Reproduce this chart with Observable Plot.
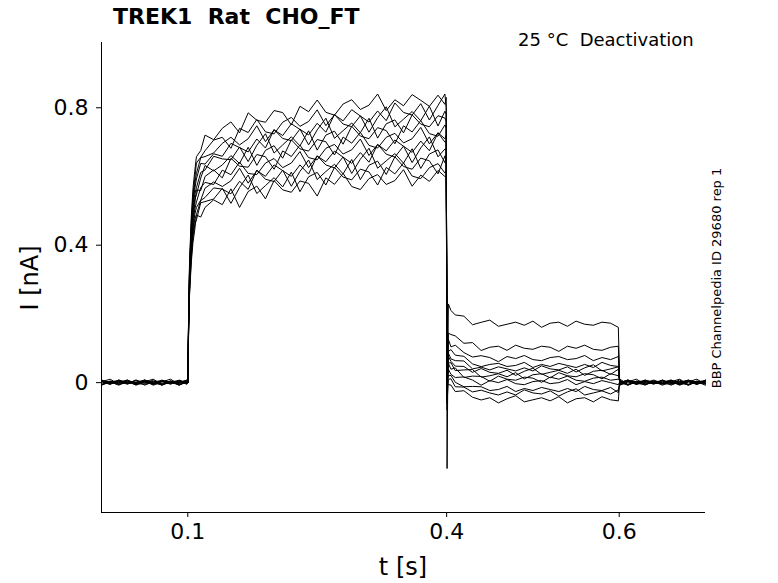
<!DOCTYPE html>
<html><head><meta charset="utf-8">
<script src="https://cdn.jsdelivr.net/npm/d3@7"></script>
<script src="https://cdn.jsdelivr.net/npm/@observablehq/plot@0.6"></script>
<style>
body{margin:0;background:#fff;font-family:"DejaVu Sans",sans-serif;}
#wrap{position:relative;width:778px;height:583px;}
.t{position:absolute;white-space:nowrap;color:#000;}
</style></head><body>
<div id="wrap">
<div class="t" style="left:113px;top:4px;font-size:22px;font-weight:bold;">TREK1&nbsp; Rat&nbsp; CHO_FT</div>
<div class="t" style="left:518px;top:29px;font-size:18px;">25 °C&nbsp; Deactivation</div>
<div class="t" style="left:716px;top:278px;font-size:13px;transform:translate(-50%,-50%) rotate(-90deg);">BBP Channelpedia ID 29680 rep 1</div>
</div>
<script>
// per-trace read values (nA)
const plateauEnd = [0.83,0.80,0.78,0.76,0.74,0.72,0.70,0.68,0.66,0.64,0.62,0.60];
const tailStart  = [0.22,0.15,0.12,0.10,0.08,0.07,0.06,0.05,0.03,0.02,0.01,0.00];
const tailEnd    = [0.17,0.10,0.07,0.05,0.04,0.03,0.02,0.01,0.00,-0.02,-0.03,-0.05];
const spike      = [-0.25,-0.08,-0.05,-0.03,0.0,0.02,-0.02,0.03,-0.04,0.01,-0.06,0.0];
const actT = [0.1,0.101,0.102,0.104,0.106,0.108,0.11,0.115,0.12,0.13];
const actF = [0.0,0.25,0.42,0.58,0.68,0.74,0.78,0.82,0.85,0.87];
const platT = [0.14,0.15,0.16,0.17,0.18,0.19,0.2,0.21,0.22,0.23,0.24,0.25,0.26,0.27,0.28,0.29,0.3,0.31,0.32,0.33,0.34,0.35,0.36,0.37,0.38,0.39,0.398];
const platF = [0.88,0.89,0.90,0.91,0.92,0.925,0.93,0.935,0.94,0.945,0.95,0.955,0.96,0.962,0.965,0.968,0.97,0.973,0.976,0.978,0.98,0.983,0.986,0.99,0.993,0.996,1.0];
const tailT = [0.402,0.405,0.41,0.42,0.43,0.44,0.45,0.46,0.47,0.48,0.49,0.5,0.51,0.52,0.53,0.54,0.55,0.56,0.57,0.58,0.59,0.599];
const tailF = [1.0,0.8,0.6,0.35,0.15,0.05,0,0,0,0,0,0,0,0,0,0,0,0,0,0,0,0];
const baseT = [0.0,0.01,0.02,0.03,0.04,0.05,0.06,0.07,0.08,0.09,0.099];
const postT = [0.601,0.61,0.62,0.63,0.64,0.65,0.66,0.67,0.68,0.69,0.7];
const wiggle = [0.01,-0.02,0.03,0,-0.01,0.02,-0.03,0.01,0.04,-0.02,0,0.02,-0.01,0.03,-0.03,0.01,0.02,-0.02,0.03,0,-0.01,0.02,0.01,-0.03,0.02,0,0.03,-0.01,-0.02,0.01,0.02,-0.01,0,0.03,-0.02,0.01,-0.01,0.02,0,-0.02];
const xTicks = [0.1,0.4,0.6];
const yTicks = [0,0.4,0.8];

const rows = [];
plateauEnd.forEach((p,k)=>{
  const w = i => wiggle[(i + k*7) % wiggle.length];
  let i=0;
  baseT.forEach(t=>rows.push({k,t,v:0.25*w(i++)}));
  actT.forEach((t,j)=>rows.push({k,t,v:p*actF[j]+(j>5?0.5*w(i++):0)}));
  platT.forEach((t,j)=>rows.push({k,t,v:p*platF[j]+w(i++)}));
  rows.push({k,t:0.3995,v:p});
  rows.push({k,t:0.4005,v:spike[k]});
  tailT.forEach((t,j)=>rows.push({k,t,v:tailEnd[k]+(tailStart[k]-tailEnd[k])*tailF[j]+0.3*w(i++)}));
  rows.push({k,t:0.6005,v:0.2*w(i++)});
  postT.forEach(t=>rows.push({k,t,v:0.25*w(i++)}));
});

const chart = Plot.plot({
  width:778,height:583,
  marginLeft:101,marginRight:73,marginTop:42,marginBottom:71,
  style:{fontFamily:"DejaVu Sans",fontSize:"22px",background:"transparent"},
  x:{domain:[0,0.7],label:null},
  y:{domain:[-0.378,0.99],label:null},
  marks:[
    Plot.line(rows,{x:"t",y:"v",z:"k",stroke:"#000",strokeWidth:1}),
    Plot.axisX({ticks:xTicks,tickFormat:d=>String(d),tickSize:5,fontSize:22,tickPadding:6,label:null}),
    Plot.axisY({ticks:yTicks,tickFormat:d=>String(d),tickSize:5,fontSize:22,tickPadding:8,label:null}),
    Plot.ruleX([0],{stroke:"#000"}),
    Plot.ruleY([-0.378],{stroke:"#000"})
  ]
});
document.getElementById("wrap").prepend(chart);
chart.style.position="absolute";chart.style.left="0";chart.style.top="0";
const yl=document.createElement("div");yl.className="t";
yl.style.cssText="left:30px;top:278px;font-size:24px;transform:translate(-50%,-50%) rotate(-90deg);";
yl.textContent="I [nA]";document.getElementById("wrap").append(yl);
const xl=document.createElement("div");xl.className="t";
xl.style.cssText="left:403px;top:553px;font-size:24px;transform:translateX(-50%);";
xl.textContent="t [s]";document.getElementById("wrap").append(xl);
</script>
</body></html>
